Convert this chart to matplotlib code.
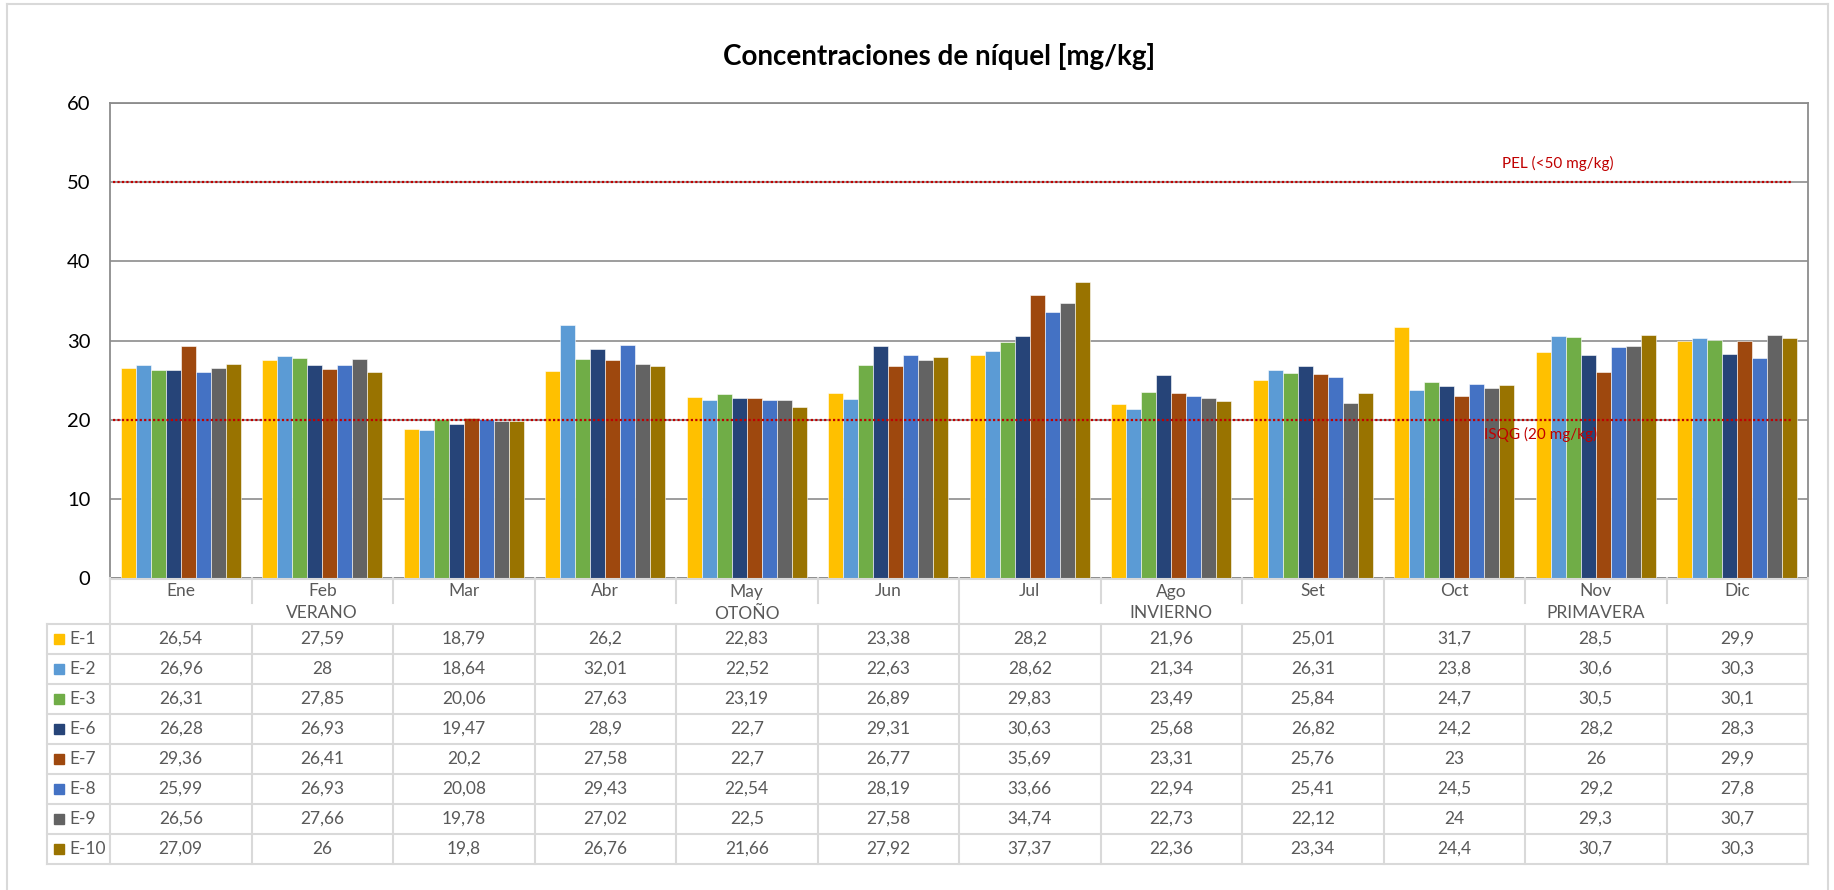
import matplotlib
matplotlib.use("Agg")
import matplotlib.pyplot as plt
from matplotlib.patches import Rectangle
from matplotlib.lines import Line2D
import numpy as np

plt.rcParams["font.family"] = ["Lato", "DejaVu Sans"]

months = ["Ene", "Feb", "Mar", "Abr", "May", "Jun",
          "Jul", "Ago", "Set", "Oct", "Nov", "Dic"]
seasons = ["VERANO", "OTOÑO", "INVIERNO", "PRIMAVERA"]
stations = ["E-1", "E-2", "E-3", "E-6", "E-7", "E-8", "E-9", "E-10"]

e1 = [26.54, 27.59, 18.79, 26.2, 22.83, 23.38, 28.2, 21.96, 25.01, 31.7, 28.5, 29.9]
e2 = [26.96, 28, 18.64, 32.01, 22.52, 22.63, 28.62, 21.34, 26.31, 23.8, 30.6, 30.3]
e3 = [26.31, 27.85, 20.06, 27.63, 23.19, 26.89, 29.83, 23.49, 25.84, 24.7, 30.5, 30.1]
e6 = [26.28, 26.93, 19.47, 28.9, 22.7, 29.31, 30.63, 25.68, 26.82, 24.2, 28.2, 28.3]
e7 = [29.36, 26.41, 20.2, 27.58, 22.7, 26.77, 35.69, 23.31, 25.76, 23, 26, 29.9]
e8 = [25.99, 26.93, 20.08, 29.43, 22.54, 28.19, 33.66, 22.94, 25.41, 24.5, 29.2, 27.8]
e9 = [26.56, 27.66, 19.78, 27.02, 22.5, 27.58, 34.74, 22.73, 22.12, 24, 29.3, 30.7]
e10 = [27.09, 26, 19.8, 26.76, 21.66, 27.92, 37.37, 22.36, 23.34, 24.4, 30.7, 30.3]
series = [e1, e2, e3, e6, e7, e8, e9, e10]

pel_value = 50
isqg_value = 20

colors = ["#FFC000", "#5B9BD5", "#70AD47", "#264478",
          "#9E480E", "#4472C4", "#636363", "#997300"]

# layout in pixels
W, H = 1834, 890
plot_l, plot_r = 110, 1808
plot_t, plot_b = 103, 578
table_l = 47
month_h, season_h, row_h = 25, 21, 30
table_h = month_h + season_h + row_h * len(stations)
table_b = plot_b + table_h
grid_c = "#d9d9d9"
text_c = "#595959"

fig = plt.figure(figsize=(W / 100, H / 100), dpi=100)
ax = fig.add_axes([plot_l / W, 1 - plot_b / H, (plot_r - plot_l) / W, (plot_b - plot_t) / H])

n = len(months)
x = np.arange(n)
bw = 0.106
for j, (vals, c) in enumerate(zip(series, colors)):
    ax.bar(x + (j - 3.5) * bw, vals, width=bw, color=c,
           edgecolor="white", linewidth=0.4, zorder=3)

ax.set_xlim(-0.5, n - 0.5)
ax.set_ylim(0, 60)
ax.set_yticks(range(0, 61, 10))
ax.set_xticks([])
ax.tick_params(axis="y", length=0, pad=14, labelsize=14.5, labelcolor="black")
ax.grid(axis="y", color="#959595", linewidth=1.3, zorder=1)
for s in ax.spines.values():
    s.set_color("#8c8c8c")
    s.set_linewidth(1.3)

# reference levels
for level in (pel_value, isqg_value):
    ax.axhline(level, xmin=0.002, xmax=0.99, color="#C00000",
               linestyle=(0, (1, 1)), linewidth=1.6, zorder=4)
ax.text(9.73, 52.4, f"PEL (<{pel_value} mg/kg)", color="#C00000",
        fontsize=11, ha="center", va="center", zorder=5)
ax.text(9.61, 18.1, f"ISQG ({isqg_value} mg/kg)", color="#C00000",
        fontsize=11, ha="center", va="center", zorder=5)

fig.text(939 / W, 1 - 57 / H, "Concentraciones de níquel [mg/kg]",
         fontsize=20, fontweight="bold", ha="center", va="center")

# data table under the plot
u = n / (plot_r - plot_l)
tab = fig.add_axes([table_l / W, 1 - table_b / H, (plot_r - table_l) / W, table_h / H])
x_left = -0.5 - (plot_l - table_l) * u
tab.set_xlim(x_left, n - 0.5)
tab.set_ylim(table_h, 0)
tab.axis("off")

def hline(y, x0, x1):
    tab.plot([x0, x1], [y, y], color=grid_c, lw=1.5, clip_on=False)

def vline(xv, y0, y1):
    tab.plot([xv, xv], [y0, y1], color=grid_c, lw=1.5, clip_on=False)

rows_top = month_h + season_h
hline(0.8, -0.5, n - 0.5)
for r in range(len(stations) + 1):
    hline(rows_top + r * row_h, x_left, n - 0.5)
vline(x_left, rows_top, table_h)
vline(-0.5, 0, table_h)
vline(n - 0.5, 0, table_h)
for i in range(1, n):
    xv = i - 0.5
    vline(xv, 0, month_h if i % 3 else rows_top)
    vline(xv, rows_top, table_h)

for i, m in enumerate(months):
    tab.text(i, month_h / 2 + 1, m, ha="center", va="center", fontsize=12.5, color=text_c)
for k, s in enumerate(seasons):
    tab.text(3 * k + 1, month_h + season_h / 2, s, ha="center", va="center",
             fontsize=12.5, color=text_c)

for r, (name, vals, c) in enumerate(zip(stations, series, colors)):
    yc = rows_top + r * row_h + row_h / 2
    tab.add_patch(Rectangle((x_left + 7 * u, yc - 5), 10 * u, 10, color=c, clip_on=False))
    tab.text(x_left + 22 * u, yc, name, ha="left", va="center", fontsize=12.5, color=text_c)
    for i, v in enumerate(vals):
        tab.text(i, yc, f"{v:g}".replace(".", ","), ha="center", va="center",
                 fontsize=12.5, color=text_c)

# chart area border
for (x0, y0, x1, y1) in [(7, 4, 1828, 4), (7, 4, 7, H), (1828, 4, 1828, H)]:
    fig.add_artist(Line2D([x0 / W, x1 / W], [1 - y0 / H, 1 - y1 / H],
                          transform=fig.transFigure, color=grid_c, lw=1.5))

fig.savefig("out.png", dpi=100)
